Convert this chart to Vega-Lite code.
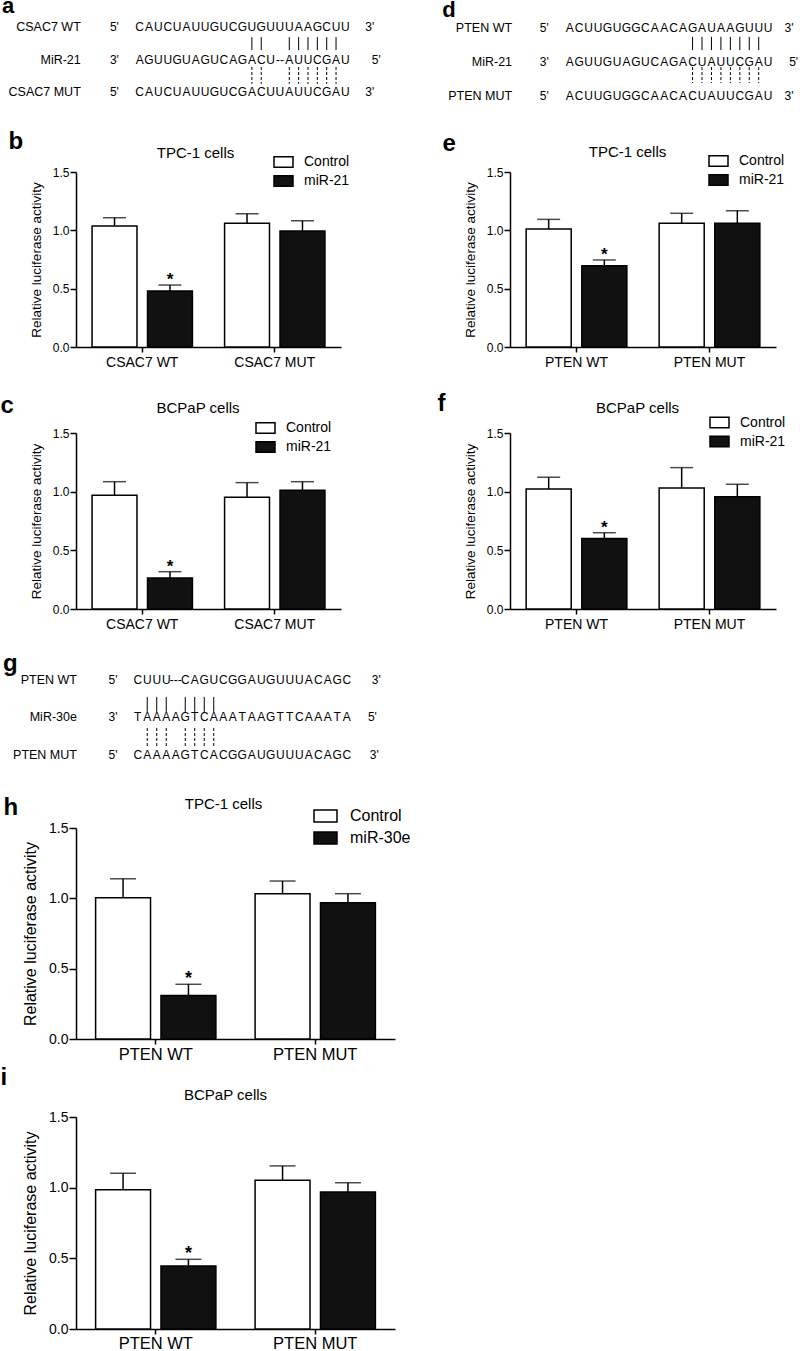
{
"$schema":"https://vega.github.io/schema/vega-lite/v6.json",
"padding":{"top":-5,"left":0,"right":0,"bottom":0},
"autosize":{"type":"pad"},
"config":{"font":"Liberation Sans","view":{"stroke":null},"axis":{"grid":false,"domainColor":"black","tickColor":"black","labelColor":"black","titleColor":"black"},"text":{"color":"black"}},
"spacing":0,
"resolve":{"scale":{"x":"independent","y":"independent","xOffset":"independent","fill":"independent"},"legend":{"fill":"independent"}},
"vconcat":[
{"columns":2,"spacing":{"row":86,"column":169},"bounds":"flush",
"resolve":{"scale":{"x":"independent","y":"independent","xOffset":"independent","fill":"independent"},"legend":{"fill":"independent"}},
"concat":[
{"width":265,"height":86,
"encoding":{"x":{"field":"c","type":"quantitative","scale":{"domain":[-6.81,21.53],"nice":false,"zero":false},"axis":null},
"y":{"field":"r","type":"quantitative","scale":{"domain":[0.169,2.815],"reverse":true,"nice":false,"zero":false},"axis":null}},
"layer":[
{"data":{"values":[
{"r":1,"t":["5'","C","A","U","C","U","A","U","U","G","U","C","G","U","G","U","U","U","A","A","G","C","U","U","3'"],"c":[-2.7,0,1,2,3,4,5,6,7,8,9,10,11,12,13,14,15,16,17,18,19,20,21,22,24.6]},
{"r":2,"t":["3'","A","G","U","U","G","U","A","G","U","C","A","G","A","C","U","--","A","U","U","C","G","A","U","5'"],"c":[-2.7,0,1,2,3,4,5,6,7,8,9,10,11,12,13,14,15,16,17,18,19,20,21,22,25.3]},
{"r":3,"t":["5'","C","A","U","C","U","A","U","U","G","U","C","G","A","C","U","U","A","U","U","C","G","A","U","3'"],"c":[-2.7,0,1,2,3,4,5,6,7,8,9,10,11,12,13,14,15,16,17,18,19,20,21,22,24.6]}]},
"transform":[{"flatten":["t","c"]}],
"mark":{"type":"text","fontSize":12,"align":"center","baseline":"middle"},
"encoding":{"text":{"field":"t"}}},
{"data":{"values":[{"r":1,"c":-6.3,"t":"CSAC7 WT"},{"r":2,"c":-6.3,"t":"MiR-21"},{"r":3,"c":-6.3,"t":"CSAC7 MUT"}]},
"mark":{"type":"text","fontSize":12.5,"align":"right","baseline":"middle"},
"encoding":{"text":{"field":"t"}}},
{"data":{"values":[{"r":0.569,"c":-14.73,"t":"a"}]},
"mark":{"type":"text","fontSize":22,"fontWeight":"bold","align":"left","baseline":"alphabetic"},
"encoding":{"text":{"field":"t"}}},
{"data":{"values":[{"c":[12,13,16,17,18,19,20,21],"r":1.31,"r2":1.71}]},"transform":[{"flatten":["c"]}],
"mark":{"type":"rule","strokeWidth":1,"color":"black"},"encoding":{"y2":{"field":"r2"}}},
{"data":{"values":[{"c":[12,13,16,17,18,19,20,21],"r":2.23,"r2":2.75}]},"transform":[{"flatten":["c"]}],
"mark":{"type":"rule","strokeWidth":1,"color":"black","strokeDash":[3,2]},"encoding":{"y2":{"field":"r2"}}}
]},
{"width":266,"height":86,
"encoding":{"x":{"field":"c","type":"quantitative","scale":{"domain":[-6.32,21.83],"nice":false,"zero":false},"axis":null},
"y":{"field":"r","type":"quantitative","scale":{"domain":[0.176,2.706],"reverse":true,"nice":false,"zero":false},"axis":null}},
"layer":[
{"data":{"values":[
{"r":1,"t":["5'","A","C","U","U","G","U","G","G","C","A","A","C","A","G","A","U","A","A","G","U","U","U","3'"],"c":[-2.7,0,1,2,3,4,5,6,7,8,9,10,11,12,13,14,15,16,17,18,19,20,21,23.2]},
{"r":2,"t":["3'","A","G","U","U","G","U","A","G","U","C","A","G","A","C","U","A","U","U","C","G","A","U","5'"],"c":[-2.7,0,1,2,3,4,5,6,7,8,9,10,11,12,13,14,15,16,17,18,19,20,21,23.7]},
{"r":3,"t":["5'","A","C","U","U","G","U","G","G","C","A","A","C","A","C","U","A","U","U","C","G","A","U","3'"],"c":[-2.7,0,1,2,3,4,5,6,7,8,9,10,11,12,13,14,15,16,17,18,19,20,21,23.2]}]},
"transform":[{"flatten":["t","c"]}],
"mark":{"type":"text","fontSize":12,"align":"center","baseline":"middle"},
"encoding":{"text":{"field":"t"}}},
{"data":{"values":[{"r":1,"c":-6.1,"t":"PTEN WT"},{"r":2,"c":-6.1,"t":"MiR-21"},{"r":3,"c":-6.1,"t":"PTEN MUT"}]},
"mark":{"type":"text","fontSize":12.5,"align":"right","baseline":"middle"},
"encoding":{"text":{"field":"t"}}},
{"data":{"values":[{"r":0.662,"c":-13.5,"t":"d"}]},
"mark":{"type":"text","fontSize":22,"fontWeight":"bold","align":"left","baseline":"alphabetic"},
"encoding":{"text":{"field":"t"}}},
{"data":{"values":[{"c":[13,14,15,16,17,18,19,20],"r":1.26,"r2":1.65}]},"transform":[{"flatten":["c"]}],
"mark":{"type":"rule","strokeWidth":1,"color":"black"},"encoding":{"y2":{"field":"r2"}}},
{"data":{"values":[{"c":[13,14,15,16,17,18,19,20],"r":2.15,"r2":2.62}]},"transform":[{"flatten":["c"]}],
"mark":{"type":"rule","strokeWidth":1,"color":"black","strokeDash":[3,2]},"encoding":{"y2":{"field":"r2"}}}
]},
{"width":265,"height":175,
"data":{"values":[
{"g":"CSAC7 WT","cond":"Control","mean":1.037,"upper":1.108,"sig":""},
{"g":"CSAC7 WT","cond":"miR-21","mean":0.48,"upper":0.531,"sig":"*"},
{"g":"CSAC7 MUT","cond":"Control","mean":1.06,"upper":1.142,"sig":""},
{"g":"CSAC7 MUT","cond":"miR-21","mean":0.994,"upper":1.082,"sig":""}]},
"resolve":{"axis":{"x":"independent"}},
"layer":[
{"mark":{"type":"bar","stroke":"black","strokeWidth":1.5},
"encoding":{
"x":{"field":"g","type":"nominal","sort":null,"scale":{"paddingInner":0,"paddingOuter":0},"axis":{"orient":"bottom","title":null,"labelAngle":0,"labelFontSize":14,"labelPadding":3,"tickSize":5,"tickWidth":1.5,"domainWidth":1.5}},
"xOffset":{"field":"cond","type":"nominal","sort":null,"scale":{"paddingInner":0.19,"paddingOuter":0.29}},
"y":{"field":"mean","type":"quantitative","title":"Relative luciferase activity","scale":{"domain":[0,1.5],"nice":false},"axis":{"values":[0,0.5,1,1.5],"format":".1f","tickSize":6,"tickWidth":1.5,"domainWidth":1.5,"labelFontSize":12,"labelPadding":1,"titleFontSize":13.5,"titleFontWeight":"normal","titlePadding":9}},
"fill":{"field":"cond","type":"nominal","sort":null,"scale":{"domain":["Control","miR-21"],"range":["#ffffff","#111111"]},"legend":{"orient":"none","legendX":197,"legendY":-20.5,"title":null,"symbolType":"M-1,-0.55H1V0.55H-1Z","symbolSize":361,"symbolStrokeColor":"black","symbolStrokeWidth":1.5,"labelFontSize":14,"labelOffset":10,"rowPadding":0,"padding":0,"labelColor":"black"}}}},
{"mark":{"type":"rule","strokeWidth":1.5,"color":"black"},
"encoding":{
"x":{"field":"g","type":"nominal","sort":null,"axis":{"orient":"top","labels":false,"ticks":false,"domain":false,"title":"TPC-1 cells","titleX":119,"titleY":-14.6,"titleAlign":"center","titleBaseline":"alphabetic","titleAngle":0,"titleFontSize":15,"titleFontWeight":"normal"}},
"xOffset":{"field":"cond","type":"nominal","sort":null},
"y":{"field":"mean","type":"quantitative","title":"Relative luciferase activity"},
"y2":{"field":"upper"}}},
{"mark":{"type":"tick","orient":"horizontal","size":23,"thickness":1.5,"color":"black"},
"encoding":{
"x":{"field":"g","type":"nominal","sort":null,"axis":{"orient":"top","labels":false,"ticks":false,"domain":false,"title":"b","titleX":-68,"titleY":-24,"titleAlign":"left","titleBaseline":"alphabetic","titleAngle":0,"titleFontSize":24,"titleFontWeight":"bold"}},
"xOffset":{"field":"cond","type":"nominal","sort":null},
"y":{"field":"upper","type":"quantitative","title":"Relative luciferase activity"}}},
{"mark":{"type":"text","baseline":"alphabetic","fontSize":17,"fontWeight":"bold"},
"encoding":{
"x":{"field":"g","type":"nominal","sort":null,"axis":null},
"xOffset":{"field":"cond","type":"nominal","sort":null},
"y":{"field":"upper","type":"quantitative","title":"Relative luciferase activity"},
"text":{"field":"sig"}}}]},
{"width":266,"height":175,
"data":{"values":[
{"g":"PTEN WT","cond":"Control","mean":1.011,"upper":1.094,"sig":""},
{"g":"PTEN WT","cond":"miR-21","mean":0.697,"upper":0.746,"sig":"*"},
{"g":"PTEN MUT","cond":"Control","mean":1.06,"upper":1.146,"sig":""},
{"g":"PTEN MUT","cond":"miR-21","mean":1.06,"upper":1.168,"sig":""}]},
"resolve":{"axis":{"x":"independent"}},
"layer":[
{"mark":{"type":"bar","stroke":"black","strokeWidth":1.5},
"encoding":{
"x":{"field":"g","type":"nominal","sort":null,"scale":{"paddingInner":0,"paddingOuter":0},"axis":{"orient":"bottom","title":null,"labelAngle":0,"labelFontSize":14,"labelPadding":3,"tickSize":5,"tickWidth":1.5,"domainWidth":1.5}},
"xOffset":{"field":"cond","type":"nominal","sort":null,"scale":{"paddingInner":0.19,"paddingOuter":0.29}},
"y":{"field":"mean","type":"quantitative","title":"Relative luciferase activity","scale":{"domain":[0,1.5],"nice":false},"axis":{"values":[0,0.5,1,1.5],"format":".1f","tickSize":6,"tickWidth":1.5,"domainWidth":1.5,"labelFontSize":12,"labelPadding":1,"titleFontSize":13.5,"titleFontWeight":"normal","titlePadding":9}},
"fill":{"field":"cond","type":"nominal","sort":null,"scale":{"domain":["Control","miR-21"],"range":["#ffffff","#111111"]},"legend":{"orient":"none","legendX":198,"legendY":-21.5,"title":null,"symbolType":"M-1,-0.55H1V0.55H-1Z","symbolSize":361,"symbolStrokeColor":"black","symbolStrokeWidth":1.5,"labelFontSize":14,"labelOffset":10,"rowPadding":0,"padding":0,"labelColor":"black"}}}},
{"mark":{"type":"rule","strokeWidth":1.5,"color":"black"},
"encoding":{
"x":{"field":"g","type":"nominal","sort":null,"axis":{"orient":"top","labels":false,"ticks":false,"domain":false,"title":"TPC-1 cells","titleX":117,"titleY":-15.6,"titleAlign":"center","titleBaseline":"alphabetic","titleAngle":0,"titleFontSize":15,"titleFontWeight":"normal"}},
"xOffset":{"field":"cond","type":"nominal","sort":null},
"y":{"field":"mean","type":"quantitative","title":"Relative luciferase activity"},
"y2":{"field":"upper"}}},
{"mark":{"type":"tick","orient":"horizontal","size":23,"thickness":1.5,"color":"black"},
"encoding":{
"x":{"field":"g","type":"nominal","sort":null,"axis":{"orient":"top","labels":false,"ticks":false,"domain":false,"title":"e","titleX":-68,"titleY":-22,"titleAlign":"left","titleBaseline":"alphabetic","titleAngle":0,"titleFontSize":24,"titleFontWeight":"bold"}},
"xOffset":{"field":"cond","type":"nominal","sort":null},
"y":{"field":"upper","type":"quantitative","title":"Relative luciferase activity"}}},
{"mark":{"type":"text","baseline":"alphabetic","fontSize":17,"fontWeight":"bold"},
"encoding":{
"x":{"field":"g","type":"nominal","sort":null,"axis":null},
"xOffset":{"field":"cond","type":"nominal","sort":null},
"y":{"field":"upper","type":"quantitative","title":"Relative luciferase activity"},
"text":{"field":"sig"}}}]},
{"width":265,"height":176,
"data":{"values":[
{"g":"CSAC7 WT","cond":"Control","mean":0.969,"upper":1.085,"sig":""},
{"g":"CSAC7 WT","cond":"miR-21","mean":0.264,"upper":0.318,"sig":"*"},
{"g":"CSAC7 MUT","cond":"Control","mean":0.952,"upper":1.077,"sig":""},
{"g":"CSAC7 MUT","cond":"miR-21","mean":1.012,"upper":1.085,"sig":""}]},
"resolve":{"axis":{"x":"independent"}},
"layer":[
{"mark":{"type":"bar","stroke":"black","strokeWidth":1.5},
"encoding":{
"x":{"field":"g","type":"nominal","sort":null,"scale":{"paddingInner":0,"paddingOuter":0},"axis":{"orient":"bottom","title":null,"labelAngle":0,"labelFontSize":14,"labelPadding":3,"tickSize":5,"tickWidth":1.5,"domainWidth":1.5}},
"xOffset":{"field":"cond","type":"nominal","sort":null,"scale":{"paddingInner":0.19,"paddingOuter":0.29}},
"y":{"field":"mean","type":"quantitative","title":"Relative luciferase activity","scale":{"domain":[0,1.5],"nice":false},"axis":{"values":[0,0.5,1,1.5],"format":".1f","tickSize":6,"tickWidth":1.5,"domainWidth":1.5,"labelFontSize":12,"labelPadding":1,"titleFontSize":13.5,"titleFontWeight":"normal","titlePadding":9}},
"fill":{"field":"cond","type":"nominal","sort":null,"scale":{"domain":["Control","miR-21"],"range":["#ffffff","#111111"]},"legend":{"orient":"none","legendX":179,"legendY":-15.5,"title":null,"symbolType":"M-1,-0.55H1V0.55H-1Z","symbolSize":361,"symbolStrokeColor":"black","symbolStrokeWidth":1.5,"labelFontSize":14,"labelOffset":10,"rowPadding":0,"padding":0,"labelColor":"black"}}}},
{"mark":{"type":"rule","strokeWidth":1.5,"color":"black"},
"encoding":{
"x":{"field":"g","type":"nominal","sort":null,"axis":{"orient":"top","labels":false,"ticks":false,"domain":false,"title":"BCPaP cells","titleX":121.5,"titleY":-20.6,"titleAlign":"center","titleBaseline":"alphabetic","titleAngle":0,"titleFontSize":15,"titleFontWeight":"normal"}},
"xOffset":{"field":"cond","type":"nominal","sort":null},
"y":{"field":"mean","type":"quantitative","title":"Relative luciferase activity"},
"y2":{"field":"upper"}}},
{"mark":{"type":"tick","orient":"horizontal","size":23,"thickness":1.5,"color":"black"},
"encoding":{
"x":{"field":"g","type":"nominal","sort":null,"axis":{"orient":"top","labels":false,"ticks":false,"domain":false,"title":"c","titleX":-76,"titleY":-21,"titleAlign":"left","titleBaseline":"alphabetic","titleAngle":0,"titleFontSize":24,"titleFontWeight":"bold"}},
"xOffset":{"field":"cond","type":"nominal","sort":null},
"y":{"field":"upper","type":"quantitative","title":"Relative luciferase activity"}}},
{"mark":{"type":"text","baseline":"alphabetic","fontSize":17,"fontWeight":"bold"},
"encoding":{
"x":{"field":"g","type":"nominal","sort":null,"axis":null},
"xOffset":{"field":"cond","type":"nominal","sort":null},
"y":{"field":"upper","type":"quantitative","title":"Relative luciferase activity"},
"text":{"field":"sig"}}}]},
{"width":266,"height":176,
"data":{"values":[
{"g":"PTEN WT","cond":"Control","mean":1.023,"upper":1.123,"sig":""},
{"g":"PTEN WT","cond":"miR-21","mean":0.6,"upper":0.65,"sig":"*"},
{"g":"PTEN MUT","cond":"Control","mean":1.031,"upper":1.205,"sig":""},
{"g":"PTEN MUT","cond":"miR-21","mean":0.957,"upper":1.063,"sig":""}]},
"resolve":{"axis":{"x":"independent"}},
"layer":[
{"mark":{"type":"bar","stroke":"black","strokeWidth":1.5},
"encoding":{
"x":{"field":"g","type":"nominal","sort":null,"scale":{"paddingInner":0,"paddingOuter":0},"axis":{"orient":"bottom","title":null,"labelAngle":0,"labelFontSize":14,"labelPadding":3,"tickSize":5,"tickWidth":1.5,"domainWidth":1.5}},
"xOffset":{"field":"cond","type":"nominal","sort":null,"scale":{"paddingInner":0.19,"paddingOuter":0.29}},
"y":{"field":"mean","type":"quantitative","title":"Relative luciferase activity","scale":{"domain":[0,1.5],"nice":false},"axis":{"values":[0,0.5,1,1.5],"format":".1f","tickSize":6,"tickWidth":1.5,"domainWidth":1.5,"labelFontSize":12,"labelPadding":1,"titleFontSize":13.5,"titleFontWeight":"normal","titlePadding":9}},
"fill":{"field":"cond","type":"nominal","sort":null,"scale":{"domain":["Control","miR-21"],"range":["#ffffff","#111111"]},"legend":{"orient":"none","legendX":199,"legendY":-21,"title":null,"symbolType":"M-1,-0.55H1V0.55H-1Z","symbolSize":361,"symbolStrokeColor":"black","symbolStrokeWidth":1.5,"labelFontSize":14,"labelOffset":10,"rowPadding":0,"padding":0,"labelColor":"black"}}}},
{"mark":{"type":"rule","strokeWidth":1.5,"color":"black"},
"encoding":{
"x":{"field":"g","type":"nominal","sort":null,"axis":{"orient":"top","labels":false,"ticks":false,"domain":false,"title":"BCPaP cells","titleX":127,"titleY":-20.6,"titleAlign":"center","titleBaseline":"alphabetic","titleAngle":0,"titleFontSize":15,"titleFontWeight":"normal"}},
"xOffset":{"field":"cond","type":"nominal","sort":null},
"y":{"field":"mean","type":"quantitative","title":"Relative luciferase activity"},
"y2":{"field":"upper"}}},
{"mark":{"type":"tick","orient":"horizontal","size":23,"thickness":1.5,"color":"black"},
"encoding":{
"x":{"field":"g","type":"nominal","sort":null,"axis":{"orient":"top","labels":false,"ticks":false,"domain":false,"title":"f","titleX":-73,"titleY":-23,"titleAlign":"left","titleBaseline":"alphabetic","titleAngle":0,"titleFontSize":24,"titleFontWeight":"bold"}},
"xOffset":{"field":"cond","type":"nominal","sort":null},
"y":{"field":"upper","type":"quantitative","title":"Relative luciferase activity"}}},
{"mark":{"type":"text","baseline":"alphabetic","fontSize":17,"fontWeight":"bold"},
"encoding":{
"x":{"field":"g","type":"nominal","sort":null,"axis":null},
"xOffset":{"field":"cond","type":"nominal","sort":null},
"y":{"field":"upper","type":"quantitative","title":"Relative luciferase activity"},
"text":{"field":"sig"}}}]}
]},
{"width":319,"height":164,
"encoding":{"x":{"field":"c","type":"quantitative","scale":{"domain":[-6.5,27.08],"nice":false,"zero":false},"axis":null},
"y":{"field":"r","type":"quantitative","scale":{"domain":[-0.307,4.067],"reverse":true,"nice":false,"zero":false},"axis":null}},
"layer":[
{"data":{"values":[
{"r":1,"t":["5'","C","U","U","U","---","C","A","G","U","C","G","G","A","U","G","U","U","U","A","C","A","G","C","3'"],"c":[-2.6,0,1,2,3,4,5,6,7,8,9,10,11,12,13,14,15,16,17,18,19,20,21,22,25.1]},
{"r":2,"t":["3'","T","A","A","A","A","G","T","C","A","A","A","T","A","A","G","T","T","C","A","A","A","T","A","5'"],"c":[-2.6,0,1,2,3,4,5,6,7,8,9,10,11,12,13,14,15,16,17,18,19,20,21,22,24.7]},
{"r":3,"t":["5'","C","A","A","A","A","G","T","C","A","C","G","G","A","U","G","U","U","U","A","C","A","G","C","3'"],"c":[-2.6,0,1,2,3,4,5,6,7,8,9,10,11,12,13,14,15,16,17,18,19,20,21,22,24.9]}]},
"transform":[{"flatten":["t","c"]}],
"mark":{"type":"text","fontSize":12,"align":"center","baseline":"middle"},
"encoding":{"text":{"field":"t"}}},
{"data":{"values":[{"r":1,"c":-6.4,"t":"PTEN WT"},{"r":2,"c":-6.4,"t":"MiR-30e"},{"r":3,"c":-6.4,"t":"PTEN MUT"}]},
"mark":{"type":"text","fontSize":12.5,"align":"right","baseline":"middle"},
"encoding":{"text":{"field":"t"}}},
{"data":{"values":[{"r":0.76,"c":-14.18,"t":"g"}]},
"mark":{"type":"text","fontSize":24,"fontWeight":"bold","align":"left","baseline":"alphabetic"},
"encoding":{"text":{"field":"t"}}},
{"data":{"values":[{"c":[1,2,3,5,6,7,8],"r":1.45,"r2":1.85}]},"transform":[{"flatten":["c"]}],
"mark":{"type":"rule","strokeWidth":1,"color":"black"},"encoding":{"y2":{"field":"r2"}}},
{"data":{"values":[{"c":[1,2,3,5,6,7,8],"r":2.28,"r2":2.76}]},"transform":[{"flatten":["c"]}],
"mark":{"type":"rule","strokeWidth":1,"color":"black","strokeDash":[3,2]},"encoding":{"y2":{"field":"r2"}}}
]},
{"spacing":78,"bounds":"flush",
"resolve":{"scale":{"x":"independent","y":"independent","xOffset":"independent","fill":"independent"},"legend":{"fill":"independent"}},
"vconcat":[
{"width":319,"height":211,
"data":{"values":[
{"g":"PTEN WT","cond":"Control","mean":1.004,"upper":1.139,"sig":""},
{"g":"PTEN WT","cond":"miR-30e","mean":0.31,"upper":0.389,"sig":"*"},
{"g":"PTEN MUT","cond":"Control","mean":1.033,"upper":1.123,"sig":""},
{"g":"PTEN MUT","cond":"miR-30e","mean":0.969,"upper":1.033,"sig":""}]},
"resolve":{"axis":{"x":"independent"}},
"layer":[
{"mark":{"type":"bar","stroke":"black","strokeWidth":1.5},
"encoding":{
"x":{"field":"g","type":"nominal","sort":null,"scale":{"paddingInner":0,"paddingOuter":0},"axis":{"orient":"bottom","title":null,"labelAngle":0,"labelFontSize":16.5,"labelPadding":2,"tickSize":5,"tickWidth":1.5,"domainWidth":1.5}},
"xOffset":{"field":"cond","type":"nominal","sort":null,"scale":{"paddingInner":0.16,"paddingOuter":0.3}},
"y":{"field":"mean","type":"quantitative","title":"Relative luciferase activity","scale":{"domain":[0,1.5],"nice":false},"axis":{"values":[0,0.5,1,1.5],"format":".1f","tickSize":7,"tickWidth":1.5,"domainWidth":1.5,"labelFontSize":14,"labelPadding":1,"titleFontSize":16,"titleFontWeight":"normal","titlePadding":10}},
"fill":{"field":"cond","type":"nominal","sort":null,"scale":{"domain":["Control","miR-30e"],"range":["#ffffff","#111111"]},"legend":{"orient":"none","legendX":237,"legendY":-24.5,"title":null,"symbolType":"M-1,-0.52H1V0.52H-1Z","symbolSize":529,"symbolStrokeColor":"black","symbolStrokeWidth":1.5,"labelFontSize":16,"labelOffset":12,"rowPadding":0,"padding":0,"labelColor":"black"}}}},
{"mark":{"type":"rule","strokeWidth":1.5,"color":"black"},
"encoding":{
"x":{"field":"g","type":"nominal","sort":null,"axis":{"orient":"top","labels":false,"ticks":false,"domain":false,"title":"TPC-1 cells","titleX":147,"titleY":-19.6,"titleAlign":"center","titleBaseline":"alphabetic","titleAngle":0,"titleFontSize":15,"titleFontWeight":"normal"}},
"xOffset":{"field":"cond","type":"nominal","sort":null},
"y":{"field":"mean","type":"quantitative","title":"Relative luciferase activity"},
"y2":{"field":"upper"}}},
{"mark":{"type":"tick","orient":"horizontal","size":26,"thickness":1.5,"color":"black"},
"encoding":{
"x":{"field":"g","type":"nominal","sort":null,"axis":{"orient":"top","labels":false,"ticks":false,"domain":false,"title":"h","titleX":-73,"titleY":-14,"titleAlign":"left","titleBaseline":"alphabetic","titleAngle":0,"titleFontSize":24,"titleFontWeight":"bold"}},
"xOffset":{"field":"cond","type":"nominal","sort":null},
"y":{"field":"upper","type":"quantitative","title":"Relative luciferase activity"}}},
{"mark":{"type":"text","baseline":"alphabetic","fontSize":18,"fontWeight":"bold"},
"encoding":{
"x":{"field":"g","type":"nominal","sort":null,"axis":null},
"xOffset":{"field":"cond","type":"nominal","sort":null},
"y":{"field":"upper","type":"quantitative","title":"Relative luciferase activity"},
"text":{"field":"sig"}}}]},
{"width":319,"height":212,
"data":{"values":[
{"g":"PTEN WT","cond":"Control","mean":0.986,"upper":1.102,"sig":""},
{"g":"PTEN WT","cond":"miR-30e","mean":0.446,"upper":0.493,"sig":"*"},
{"g":"PTEN MUT","cond":"Control","mean":1.052,"upper":1.154,"sig":""},
{"g":"PTEN MUT","cond":"miR-30e","mean":0.97,"upper":1.035,"sig":""}]},
"resolve":{"axis":{"x":"independent"}},
"layer":[
{"mark":{"type":"bar","stroke":"black","strokeWidth":1.5},
"encoding":{
"x":{"field":"g","type":"nominal","sort":null,"scale":{"paddingInner":0,"paddingOuter":0},"axis":{"orient":"bottom","title":null,"labelAngle":0,"labelFontSize":16.5,"labelPadding":1,"tickSize":5,"tickWidth":1.5,"domainWidth":1.5}},
"xOffset":{"field":"cond","type":"nominal","sort":null,"scale":{"paddingInner":0.16,"paddingOuter":0.3}},
"y":{"field":"mean","type":"quantitative","title":"Relative luciferase activity","scale":{"domain":[0,1.5],"nice":false},"axis":{"values":[0,0.5,1,1.5],"format":".1f","tickSize":7,"tickWidth":1.5,"domainWidth":1.5,"labelFontSize":14,"labelPadding":1,"titleFontSize":16,"titleFontWeight":"normal","titlePadding":10}},
"fill":{"field":"cond","type":"nominal","sort":null,"scale":{"domain":["Control","miR-30e"],"range":["#ffffff","#111111"]},"legend":null}}},
{"mark":{"type":"rule","strokeWidth":1.5,"color":"black"},
"encoding":{
"x":{"field":"g","type":"nominal","sort":null,"axis":{"orient":"top","labels":false,"ticks":false,"domain":false,"title":"BCPaP cells","titleX":149,"titleY":-17.6,"titleAlign":"center","titleBaseline":"alphabetic","titleAngle":0,"titleFontSize":15,"titleFontWeight":"normal"}},
"xOffset":{"field":"cond","type":"nominal","sort":null},
"y":{"field":"mean","type":"quantitative","title":"Relative luciferase activity"},
"y2":{"field":"upper"}}},
{"mark":{"type":"tick","orient":"horizontal","size":26,"thickness":1.5,"color":"black"},
"encoding":{
"x":{"field":"g","type":"nominal","sort":null,"axis":{"orient":"top","labels":false,"ticks":false,"domain":false,"title":"i","titleX":-76,"titleY":-33,"titleAlign":"left","titleBaseline":"alphabetic","titleAngle":0,"titleFontSize":24,"titleFontWeight":"bold"}},
"xOffset":{"field":"cond","type":"nominal","sort":null},
"y":{"field":"upper","type":"quantitative","title":"Relative luciferase activity"}}},
{"mark":{"type":"text","baseline":"alphabetic","fontSize":18,"fontWeight":"bold"},
"encoding":{
"x":{"field":"g","type":"nominal","sort":null,"axis":null},
"xOffset":{"field":"cond","type":"nominal","sort":null},
"y":{"field":"upper","type":"quantitative","title":"Relative luciferase activity"},
"text":{"field":"sig"}}}]}
]}
]
}
